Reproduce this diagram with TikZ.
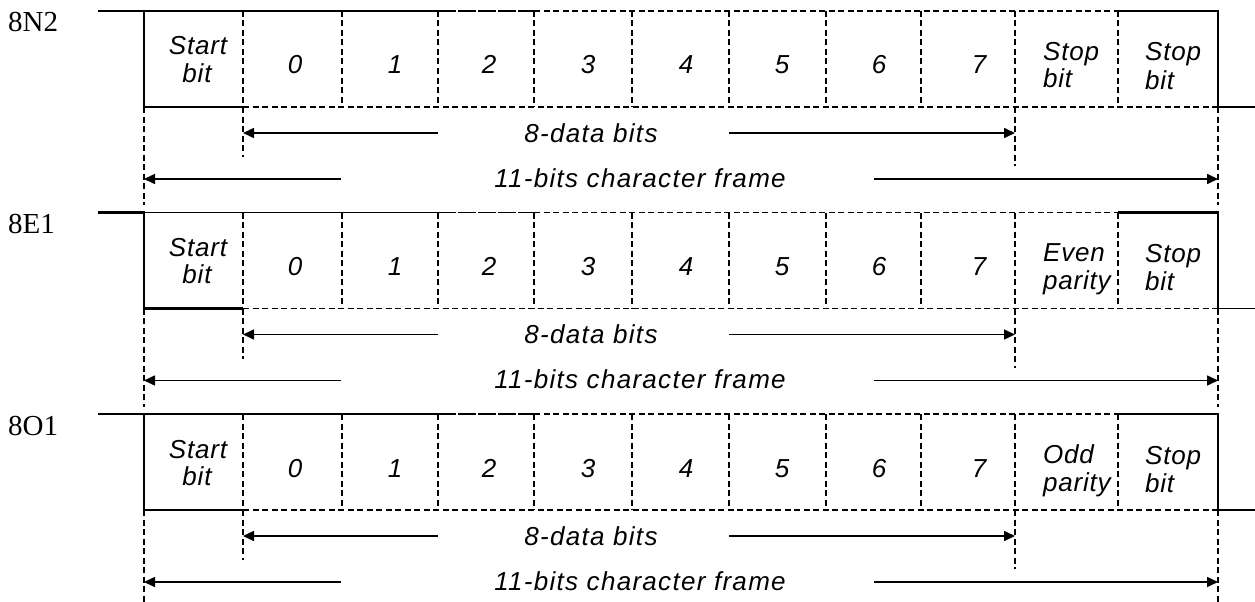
\documentclass[tikz,border=0pt]{standalone}
\usepackage{fontspec}
\setmainfont{Liberation Serif}
\newfontfamily\bitfont[LetterSpace=3]{Liberation Sans}
\newfontfamily\spanfont[LetterSpace=5]{Liberation Sans}
\usetikzlibrary{arrows.meta,positioning}

\tikzset{
  level/.style={line width=1.8pt},
  heavy/.style={line width=2.8pt},
  grid/.style={line width=1.5pt, dash pattern=on 6pt off 3.5pt},
  span/.style={line width=1.6pt, -{Triangle[length=11pt,width=10pt]}},
  bitlabel/.style={font=\bitfont\itshape\fontsize{26}{28}\selectfont, inner sep=0pt, anchor=base},
  spanlabel/.style={font=\spanfont\itshape\fontsize{26}{28}\selectfont, inner sep=0pt, anchor=base},
  rowlabel/.style={font=\fontsize{29}{31}\selectfont, inner sep=0pt, anchor=base west},
}

\begin{document}
\begin{tikzpicture}[x=1pt,y=-1pt]
  \useasboundingbox (0,0) rectangle (1255,602);
  \foreach \r/\lab/\pa/\pb in {0/8N2/Stop/bit,1/8E1/Even/parity,2/8O1/Odd/parity}{
    \pgfmathsetmacro\T{11+201.5*\r}
    \pgfmathsetmacro\B{\T+96}
    \pgfmathsetmacro\E{\r<2 ? \T+194 : 602}
    % row name
    \node[rowlabel] (name\r) at (8,\T+21) {\lab};
    % signal level
    \draw[heavy] (98,\T) -- (144,\T) -- (144,\B) -- (243,\B);
    \draw[level] (144,\T) -- (438,\T);
    \draw[level, dash pattern=on 18pt off 2pt] (438,\T) -- (534,\T);
    \draw[grid] (534,\T) -- (1118,\T);
    \draw[grid] (243,\B) -- (1218,\B);
    \draw[heavy] (1118,\T) -- (1218,\T) -- (1218,\B);
    \draw[level] (1218,\B) -- (1255,\B);
    % cell borders
    \foreach \x in {243,342,438,534,632,729,826,921,1015,1118}
      \draw[grid] (\x,\T) -- (\x,\B);
    % guides
    \draw[grid] (144,\B) -- (144,\E);
    \draw[grid] (1218,\B) -- (1218,\E);
    \draw[grid] (243,\B) -- (243,\T+146);
    \draw[grid] (1015,\B) -- (1015,\T+155);
    % cell texts
    \node[bitlabel] (start\r) at (198,\T+44) {Start};
    \node[bitlabel] (startb\r) at (197,\T+71) {bit};
    \foreach \x [count=\i from 0] in {295,395,489,588,686,782,879,979}
      \node[bitlabel] (bit\r-\i) at (\x,\T+63) {\i};
    \node[bitlabel, anchor=base west] (par\r) at (1043,\T+49) {\pa};
    \node[bitlabel, anchor=base west] (parb\r) at (1043,\T+77) {\pb};
    \node[bitlabel, anchor=base west] (stop\r) at (1145,\T+50) {Stop};
    \node[bitlabel, anchor=base west] (stopb\r) at (1145,\T+78) {bit};
    % data span
    \coordinate (dl\r) at (243,\T+122);
    \coordinate (dr\r) at (1015,\T+122);
    \coordinate (dgl\r) at (438,\T+122);
    \coordinate (dgr\r) at (729,\T+122);
    \node[spanlabel] (data\r) at (591,\T+131) {8-data bits};
    \draw[span] (dgl\r) -- (dl\r);
    \draw[span] (dgr\r) -- (dr\r);
    % frame span
    \coordinate (fl\r) at (144,\T+168);
    \coordinate (fr\r) at (1218,\T+168);
    \coordinate (fgl\r) at (341,\T+168);
    \coordinate (fgr\r) at (874,\T+168);
    \node[spanlabel] (frame\r) at (640,\T+176) {11-bits character frame};
    \draw[span] (fgl\r) -- (fl\r);
    \draw[span] (fgr\r) -- (fr\r);
  }
\end{tikzpicture}
\end{document}
